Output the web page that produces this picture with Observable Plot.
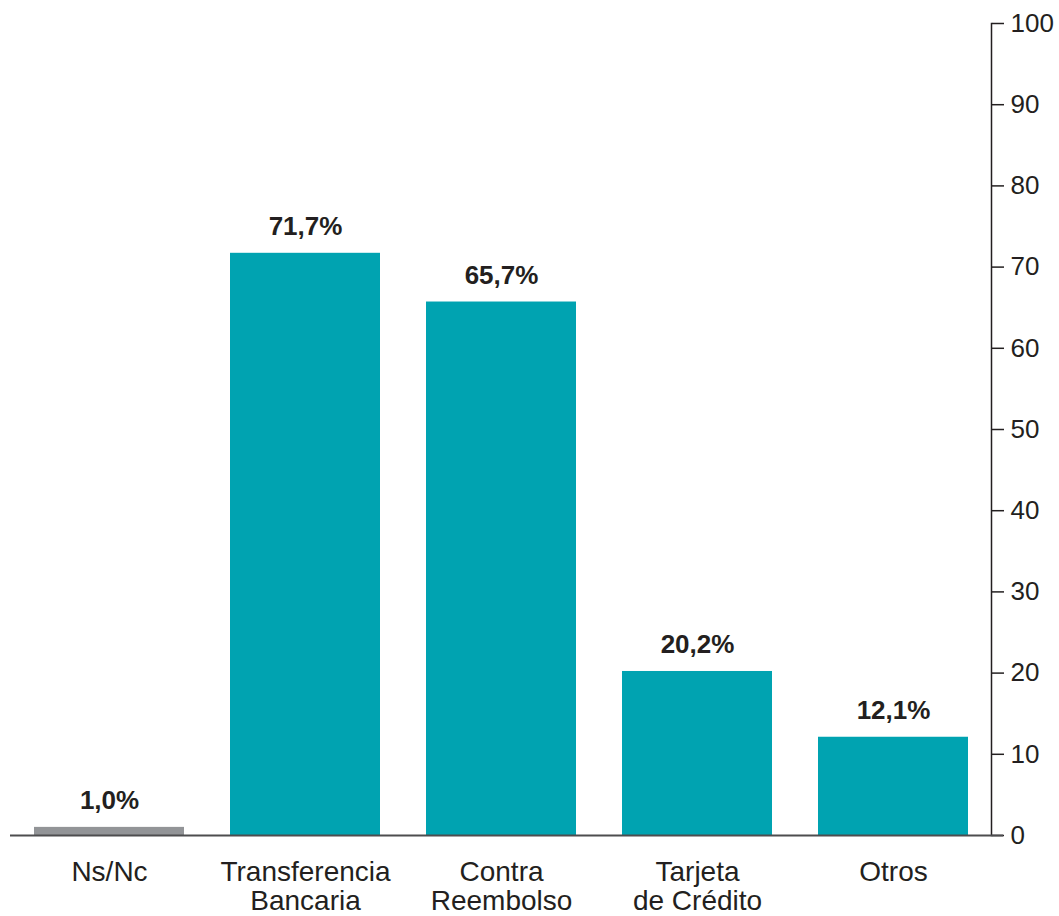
<!DOCTYPE html>
<html>
<head>
<meta charset="utf-8">
<script src="https://cdn.jsdelivr.net/npm/d3@7"></script>
<script src="https://cdn.jsdelivr.net/npm/@observablehq/plot@0.6"></script>
<style>
  html, body { margin: 0; padding: 0; background: #fff; }
  svg { display: block; }
</style>
</head>
<body>
<div id="chart"></div>
<script>
const categories = ["Ns/Nc", "Transferencia\nBancaria", "Contra\nReembolso", "Tarjeta\nde Crédito", "Otros"];
const values = [1.0, 71.7, 65.7, 20.2, 12.1];
const labels = ["1,0%", "71,7%", "65,7%", "20,2%", "12,1%"];
const yTicks = [0, 10, 20, 30, 40, 50, 60, 70, 80, 90, 100];

const data = categories.map((c, i) => ({cat: c, value: values[i], label: labels[i], na: i === 0}));

const chart = Plot.plot({
  width: 1059,
  height: 916,
  marginTop: 23,
  marginBottom: 81,
  marginLeft: 10,
  marginRight: 68,
  style: {fontFamily: "'Liberation Sans', Arial, sans-serif", color: "#231f20", background: "#fff"},
  x: {domain: categories, range: [33, 968], paddingInner: 0.236, paddingOuter: 0, label: null},
  y: {domain: [0, 100], label: null},
  marks: [
    Plot.barY(data, {x: "cat", y: "value", fill: d => d.na ? "#929497" : "#00a3b1"}),
    Plot.text(data, {x: "cat", y: "value", text: "label", lineAnchor: "bottom", dy: -18, fontSize: 26, fontWeight: "bold", fill: "#231f20"}),
    Plot.axisY({anchor: "right", ticks: yTicks, tickSize: 12, tickPadding: 7, fontSize: 26, label: null, stroke: "#231f20", fill: "#231f20", strokeWidth: 1.5}),
    Plot.frame({anchor: "right", stroke: "#231f20", strokeWidth: 1.5}),
    Plot.ruleY([0], {stroke: "#4d4d4f", strokeWidth: 2, insetRight: -12}),
    Plot.axisX({tickSize: 0, tickPadding: 24, fontSize: 28, lineHeight: 1.06, lineAnchor: "top", label: null, fill: "#231f20"})
  ]
});
document.getElementById("chart").appendChild(chart);
</script>
</body>
</html>
